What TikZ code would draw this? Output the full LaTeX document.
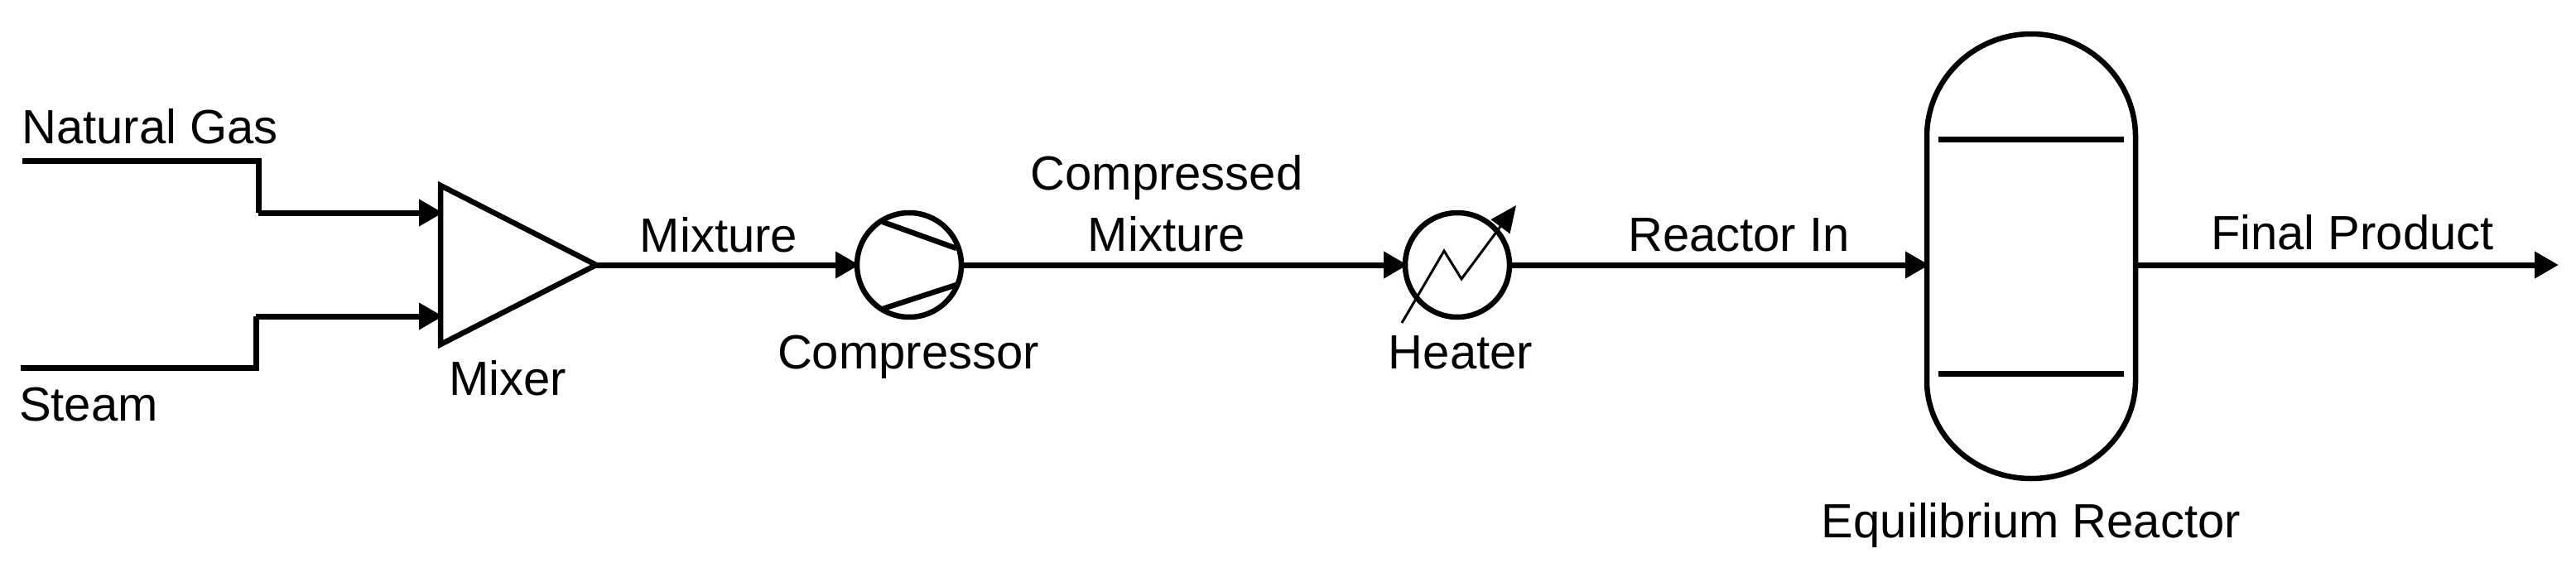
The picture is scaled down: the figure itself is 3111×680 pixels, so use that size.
\documentclass[tikz,border=0pt]{standalone}
\usepackage{fontspec}
\setmainfont{Liberation Sans}
\usetikzlibrary{arrows.meta}
\tikzset{
  flow/.style={line width=7pt,-{Triangle[length=29pt,width=31pt]},shorten >=-3pt},
  plainflow/.style={line width=7pt,miter limit=10},
  unit/.style={draw=black,line width=6.5pt,circle,minimum size=126pt,inner sep=0pt,outer sep=0pt,fill=white},
  outline/.style={line width=6.5pt,line join=miter},
  tray/.style={line width=7pt},
  blade/.style={line width=6.5pt},
  label/.style={anchor=base,inner sep=0pt,outer sep=0pt,font=\fontsize{58}{74}\selectfont},
}
\begin{document}
\begin{tikzpicture}[x=1pt,y=-1pt]
\useasboundingbox (0,0) rectangle (3111,680);
% feed end points
\coordinate (ngstart) at (27,194);
\coordinate (ngbend1) at (312,194);
\coordinate (ngbend2) at (312,257);
\coordinate (ststart) at (25,444);
\coordinate (stbend1) at (309,444);
\coordinate (stbend2) at (309,382);
\coordinate (mixtop) at (532,224);
\coordinate (mixbot) at (532,416);
\coordinate (mixtip) at (720,320);
\coordinate (mixin1) at (532,257);
\coordinate (mixin2) at (532,382);
% equipment
\node[unit] (comp) at (1098,320) {};
\node[unit] (heat) at (1760,320) {};
\coordinate (rin) at (2327,320);
\coordinate (rout) at (2579,320);
\coordinate (pout) at (3090,320);
% streams
\draw[plainflow] (ngstart) -- (ngbend1) -- (ngbend2);
\draw[flow] (ngbend2) -- (mixin1);
\draw[plainflow] (ststart) -- (stbend1) -- (stbend2);
\draw[flow] (stbend2) -- (mixin2);
\draw[flow] (mixtip) -- (comp.west);
\draw[flow] (comp.east) -- (heat.west);
\draw[flow] (heat.east) -- (rin);
\draw[flow,shorten >=0pt] (rout) -- (pout);
% mixer
\draw[outline] (mixtop) -- (mixtip) -- (mixbot) -- cycle;
% compressor blades
\coordinate (b1a) at (1066,268);
\coordinate (b1b) at (1155,300);
\coordinate (b2a) at (1066,373);
\coordinate (b2b) at (1155,344);
\draw[blade] (b1a) -- (b1b);
\draw[blade] (b2a) -- (b2b);
% heater zigzag
\coordinate (z0) at (1693,390);
\coordinate (z1) at (1744,303);
\coordinate (z2) at (1765,337);
\coordinate (z3) at (1831,248);
\draw[line width=3pt,-{Triangle[length=32pt,width=28pt]}] (z0) -- (z1) -- (z2) -- (z3);
% reactor
\draw[outline] (2327,165) arc[start angle=180,end angle=0,x radius=126,y radius=-124]
  -- (2579,460) arc[start angle=0,end angle=180,x radius=126,y radius=118] -- cycle;
\coordinate (t1a) at (2341,168);
\coordinate (t1b) at (2565,168);
\coordinate (t2a) at (2341,451);
\coordinate (t2b) at (2565,451);
\draw[tray] (t1a) -- (t1b);
\draw[tray] (t2a) -- (t2b);
% labels
\node[label] (lng) at (181,173) {Natural Gas};
\node[label] (lst) at (107,508) {Steam};
\node[label] (lmx) at (613,477) {Mixer};
\node[label] (lmix) at (868,304) {Mixture};
\node[label] (lcm1) at (1409,229) {Compressed};
\node[label] (lcm2) at (1409,303) {Mixture};
\node[label] (lcomp) at (1097,445) {Compressor};
\node[label] (lheat) at (1764,445) {Heater};
\node[label] (lrin) at (2100,303) {Reactor In};
\node[label] (lfp) at (2841,301) {Final Product};
\node[label] (leq) at (2453,649) {Equilibrium Reactor};
\end{tikzpicture}
\end{document}
